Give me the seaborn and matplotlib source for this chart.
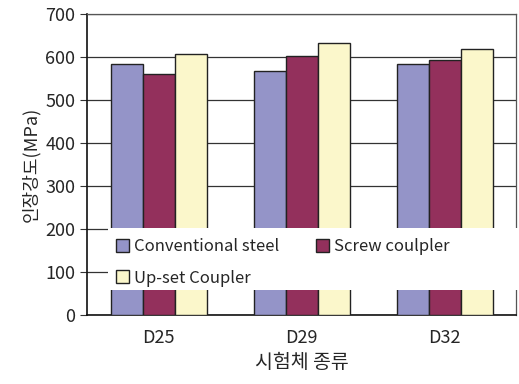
import seaborn as sns
import matplotlib.pyplot as plt
import matplotlib.patches as mpatches
import pandas as pd

specimens = ["D25", "D29", "D32"]
series = ["Conventional steel", "Screw coulpler", "Up-set Coupler"]
conventional = [585, 567, 585]
screw = [560, 603, 594]
upset = [607, 632, 620]
colors = ["#9494c8", "#93305c", "#fbf7cb"]

df = pd.DataFrame({
    "spec": specimens * 3,
    "type": [series[0]] * 3 + [series[1]] * 3 + [series[2]] * 3,
    "val": conventional + screw + upset,
})

sns.set_style("white")
plt.rcParams['font.family'] = ['Noto Sans CJK KR', 'DejaVu Sans']

fig, ax = plt.subplots(figsize=(5.19, 3.84), dpi=100)
sns.barplot(data=df, x="spec", y="val", hue="type", palette=colors,
            width=0.67, edgecolor="#222222", linewidth=1.0, saturation=1, ax=ax, zorder=3)

ax.set_ylim(0, 700)
ax.set_yticks(range(0, 701, 100))
ax.yaxis.grid(True, color="#333333", linewidth=0.9, zorder=0)
ax.set_axisbelow(True)
ax.set_xlim(-0.5, 2.5)
ax.set_xticks([0.5, 1.5], minor=True)
ax.tick_params(axis="x", which="major", length=0, labelsize=13, pad=10)
ax.tick_params(axis="x", which="minor", direction="in", length=5, color="#333333")
ax.tick_params(axis="y", direction="out", length=5, labelsize=13, color="#333333", left=True)
for s in ["top", "right"]:
    ax.spines[s].set_color("#555555")
    ax.spines[s].set_linewidth(0.9)
for s in ["left", "bottom"]:
    ax.spines[s].set_color("#111111")
    ax.spines[s].set_linewidth(1.2)

ax.set_xlabel("시험체 종류", fontsize=14)
ax.set_ylabel("인장강도(MPa)", fontsize=13)

# white box behind legend
box = mpatches.Rectangle((0.049, 0.083), 0.96, 0.206, transform=ax.transAxes,
                         facecolor="white", edgecolor="none", zorder=4, clip_on=False)
ax.add_patch(box)

handles, labels = ax.get_legend_handles_labels()
order = [0, 2, 1]
leg = ax.legend([handles[i] for i in order], [labels[i] for i in order],
                loc="center left", bbox_to_anchor=(0.055, 0.174),
                ncol=2, fontsize=12, frameon=False,
                handlelength=0.8, handleheight=0.8, handletextpad=0.3,
                borderaxespad=0, labelspacing=0.85, borderpad=0.3, columnspacing=2.2)
leg.set_zorder(5)

plt.subplots_adjust(left=0.168, right=0.995, top=0.963, bottom=0.18)
plt.savefig("out.png", dpi=100)
